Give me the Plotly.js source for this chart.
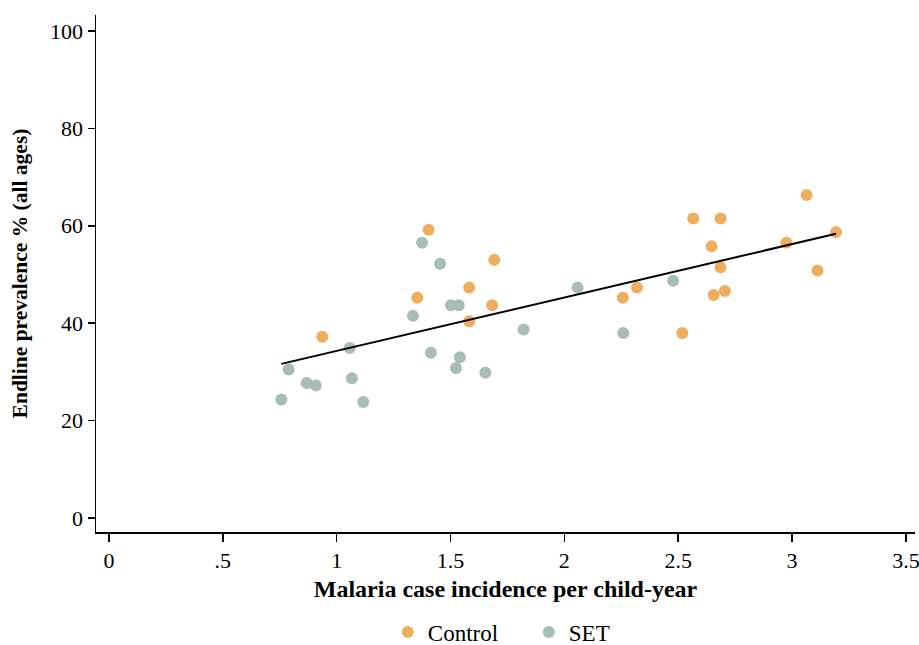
<!DOCTYPE html>
<html>
<head>
<meta charset="utf-8">
<script src="https://cdn.plot.ly/plotly-3.0.1.min.js"></script>
<style>html,body{margin:0;padding:0;background:#fff;}#chart{width:919px;height:645px;}</style>
</head>
<body>
<div id="chart"></div>
<script>
// Control arms
const controlX = [0.937, 1.354, 1.404, 1.582, 1.582, 1.692, 1.683, 2.257, 2.319, 2.518, 2.566, 2.647, 2.686, 2.686, 2.656, 2.705, 2.975, 3.064, 3.112, 3.193];
const controlY = [37.2, 45.2, 59.2, 47.3, 40.4, 53.0, 43.7, 45.2, 47.3, 38.0, 61.5, 55.8, 61.5, 51.5, 45.8, 46.6, 56.5, 66.3, 50.8, 58.7];
// SET arms
const setX = [0.757, 0.789, 0.868, 0.908, 1.057, 1.067, 1.117, 1.335, 1.375, 1.414, 1.454, 1.502, 1.536, 1.524, 1.541, 1.653, 1.821, 2.058, 2.259, 2.478];
const setY = [24.3, 30.5, 27.7, 27.2, 34.9, 28.7, 23.8, 41.5, 56.5, 33.9, 52.2, 43.7, 43.7, 30.8, 33.0, 29.8, 38.7, 47.3, 38.0, 48.7];
const xTickVals = [0, 0.5, 1, 1.5, 2, 2.5, 3, 3.5];
const xTickText = ["0", ".5", "1", "1.5", "2", "2.5", "3", "3.5"];
const yTickVals = [0, 20, 40, 60, 80, 100];

// Linear fit across all clusters
const allX = controlX.concat(setX);
const allY = controlY.concat(setY);
const n = allX.length;
const mx = allX.reduce((a, b) => a + b, 0) / n;
const my = allY.reduce((a, b) => a + b, 0) / n;
let sxy = 0, sxx = 0;
for (let i = 0; i < n; i++) { sxy += (allX[i] - mx) * (allY[i] - my); sxx += (allX[i] - mx) ** 2; }
const slope = sxy / sxx;
const intercept = my - slope * mx;
const xMin = Math.min(...allX), xMax = Math.max(...allX);
const fitX = [xMin, xMax];
const fitY = fitX.map(v => intercept + slope * v);

const fam = "Liberation Serif";
const f = s => ({family: fam, size: s, color: "#000"});

const traces = [
  {x: controlX, y: controlY, type: "scatter", mode: "markers", name: "Control",
   marker: {color: "#EFAE5E", size: 12, line: {width: 0}}},
  {x: setX, y: setY, type: "scatter", mode: "markers", name: "SET",
   marker: {color: "#A8BDB6", size: 12, line: {width: 0}}},
  {x: fitX, y: fitY, type: "scatter", mode: "lines", showlegend: false,
   line: {color: "#000", width: 2}}
];

const layout = {
  width: 919, height: 645,
  margin: {l: 96, r: 4, t: 15, b: 113, autoexpand: false},
  paper_bgcolor: "#fff", plot_bgcolor: "#fff",
  font: f(22),
  showlegend: true,
  legend: {orientation: "h", x: 0.422, xref: "container", xanchor: "left",
           y: 0.02, yref: "container", yanchor: "middle",
           font: f(23), itemwidth: 30, entrywidth: 96, entrywidthmode: "pixels", tracegroupgap: 0},
  xaxis: {
    range: [-0.057, 3.54], tickvals: xTickVals, ticktext: xTickText,
    automargin: false, ticklabeloverflow: "allow",
    showline: true, linecolor: "#000", linewidth: 1.5, mirror: false,
    ticks: "outside", ticklen: 8, tickwidth: 1.5, tickcolor: "#000",
    showgrid: false, zeroline: false,
    tickfont: f(22),
    title: {text: "<b>Malaria case incidence per child-year</b>", font: f(24), standoff: 8}
  },
  yaxis: {
    range: [-2.9, 103.3], tickvals: yTickVals,
    automargin: false, ticklabeloverflow: "allow",
    showline: true, linecolor: "#000", linewidth: 1.5,
    ticks: "outside", ticklen: 7, tickwidth: 1.5, tickcolor: "#000",
    showgrid: false, zeroline: false,
    tickfont: f(22),
    title: {text: "<b>Endline prevalence % (all ages)</b>", font: f(21.5), standoff: 16}
  }
};

Plotly.newPlot("chart", traces, layout, {displayModeBar: false, staticPlot: true});
</script>
</body>
</html>
